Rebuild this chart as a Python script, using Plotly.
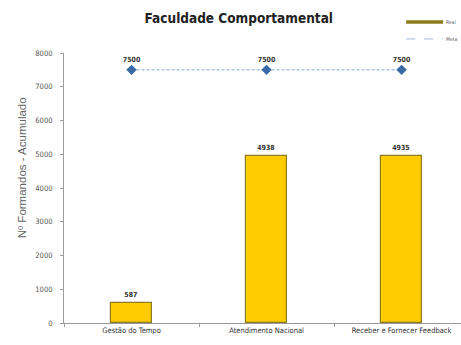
import plotly.graph_objects as go

# Dados do gráfico
categorias = ["Gestão do Tempo", "Atendimento Nacional", "Receber e Fornecer Feedback"]
realizado = [587, 4938, 4935]
meta = [7500, 7500, 7500]
rotulo_real = "Real"
rotulo_meta = "Meta"

NARROW = "DejaVu Sans Condensed, Liberation Sans Narrow, Arial Narrow, sans-serif"

fig = go.Figure()

fig.add_trace(go.Bar(
    x=categorias, y=realizado, name=rotulo_real,
    width=0.3,
    marker=dict(color="#FFCC00", line=dict(color="#8C7A1E", width=1.2)),
    text=[f"<b>{v}</b>" for v in realizado], textposition="outside",
    textfont=dict(family=NARROW, size=7, color="#333333"),
    cliponaxis=False, showlegend=False,
))

fig.add_trace(go.Scatter(
    x=categorias, y=meta, name=rotulo_meta, mode="lines+markers+text",
    line=dict(color="#7FA7D4", width=1, dash="3px,2px"),
    marker=dict(symbol="diamond", size=8, color="#3A6AA5"),
    text=[f"<b>{v}</b>" for v in meta], textposition="top center",
    textfont=dict(family=NARROW, size=7, color="#333333"),
    cliponaxis=False, showlegend=False,
))

# Legenda desenhada à mão no canto superior direito
fig.add_shape(type="line", xref="paper", yref="paper",
              x0=0.862, x1=0.955, y0=1.115, y1=1.115,
              line=dict(color="#8C7A1E", width=3.5))
fig.add_shape(type="line", xref="paper", yref="paper",
              x0=0.862, x1=0.955, y0=1.052, y1=1.052,
              line=dict(color="#9DBCE0", width=1, dash="dash"))
fig.add_annotation(xref="paper", yref="paper", x=0.958, y=1.115, text=rotulo_real,
                   showarrow=False, xanchor="left", yanchor="middle",
                   font=dict(family=NARROW, size=5, color="#555555"))
fig.add_annotation(xref="paper", yref="paper", x=0.958, y=1.052, text=rotulo_meta,
                   showarrow=False, xanchor="left", yanchor="middle",
                   font=dict(family=NARROW, size=5, color="#555555"))

# Título do eixo Y
fig.add_annotation(xref="paper", yref="paper", x=-0.105, y=0.574,
                   text="Nº Formandos - Acumulado", textangle=-90,
                   showarrow=False, xanchor="center", yanchor="middle",
                   font=dict(family="Liberation Sans, Arial, sans-serif", size=11.5, color="#666666"))

fig.update_layout(
    width=461, height=345,
    margin=dict(l=64, r=0, t=53, b=22),
    paper_bgcolor="white", plot_bgcolor="white",
    title=dict(text="<b>Faculdade Comportamental</b>", x=0.518, xanchor="center",
               y=0.947, yanchor="middle",
               font=dict(family=NARROW, size=13.5, color="#222222")),
    bargap=0,
    showlegend=False,
)

fig.update_xaxes(
    type="category", range=[-0.5, 2.44],
    showline=True, linecolor="#9A9A9A", linewidth=1,
    ticks="outside", tickson="boundaries", ticklen=3, tickcolor="#9A9A9A",
    tickfont=dict(family=NARROW, size=7.5, color="#333333"),
    showgrid=False, zeroline=False,
)
fig.update_yaxes(
    range=[0, 8000], dtick=1000,
    showline=True, linecolor="#9A9A9A", linewidth=1,
    ticks="outside", ticklen=3, tickcolor="#9A9A9A",
    tickfont=dict(family=NARROW, size=7.5, color="#555555"),
    showgrid=False, zeroline=False, ticklabelstandoff=6,
)

fig.write_html("out.html")
